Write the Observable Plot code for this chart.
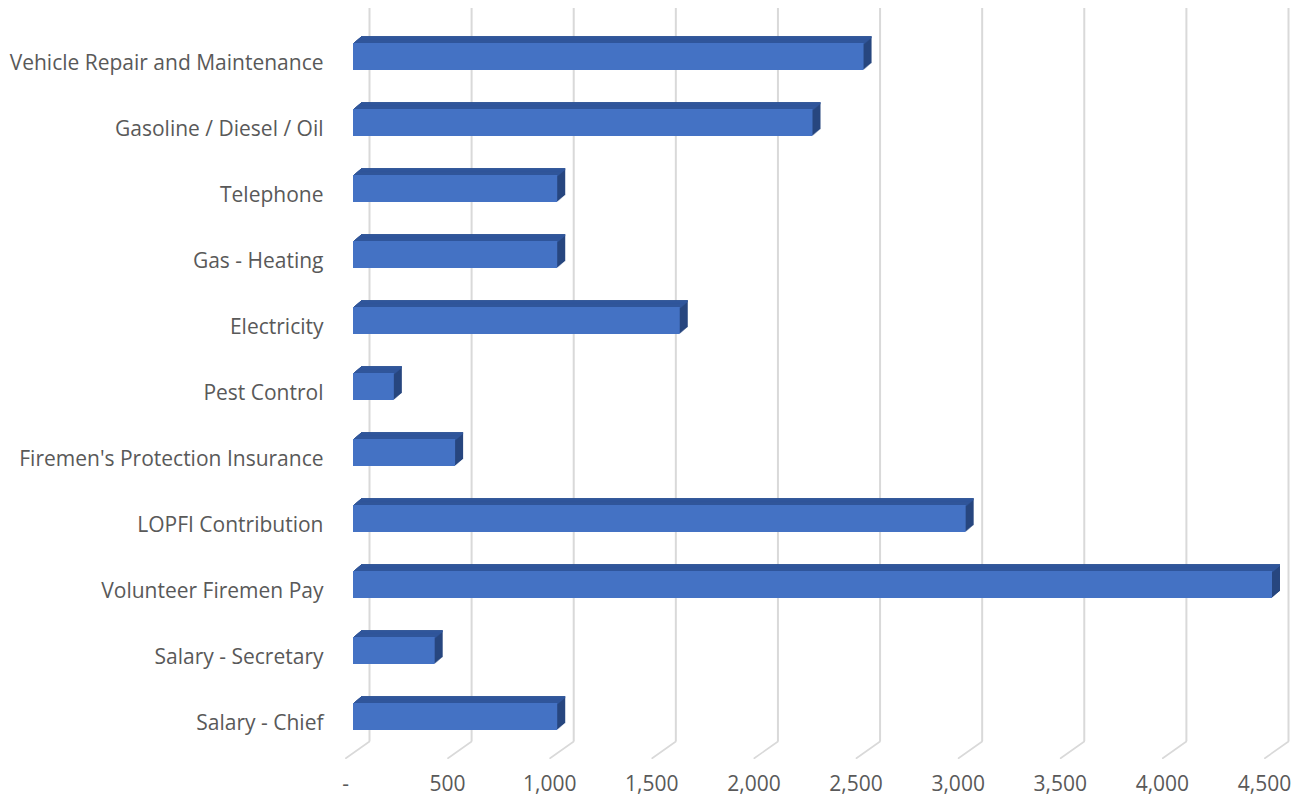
<!DOCTYPE html>
<html>
<head>
<meta charset="utf-8">
<script src="https://cdn.jsdelivr.net/npm/d3@7"></script>
<script src="https://cdn.jsdelivr.net/npm/@observablehq/plot@0.6"></script>
<style>
  html, body { margin: 0; padding: 0; background: #ffffff; }
  #chart svg { display: block; }
</style>
</head>
<body>
<div id="chart"></div>
<script>
const categories = [
  "Vehicle Repair and Maintenance",
  "Gasoline / Diesel / Oil",
  "Telephone",
  "Gas - Heating",
  "Electricity",
  "Pest Control",
  "Firemen's Protection Insurance",
  "LOPFI Contribution",
  "Volunteer Firemen Pay",
  "Salary - Secretary",
  "Salary - Chief"
];
const values = [2500, 2250, 1000, 1000, 1600, 200, 500, 3000, 4500, 400, 1000];
const xTicks = [0, 500, 1000, 1500, 2000, 2500, 3000, 3500, 4000, 4500];
const xTickLabels = ["-", "500", "1,000", "1,500", "2,000", "2,500", "3,000", "3,500", "4,000", "4,500"];

const data = categories.map((c, i) => ({category: c, value: values[i]}));
const ticks = xTicks.map((v, i) => ({value: v, label: xTickLabels[i]}));

const FONT = "'Open Sans', 'Noto Sans', sans-serif";
const TEXT = "#595959";
const GRID = "#d9d9d9";
const FRONT = "#4472c4";
const TOP = "#30569b";
const SIDE = "#27467f";
const DEPTH = 8;         // extrusion steps (px)
const SLOPE = 0.85;      // vertical rise per horizontal px of depth
const BACK = 16;         // back wall offset (px) of gridlines

const depthSide = d3.range(1, DEPTH + 1).map(k =>
  Plot.barX(data, {x1: 0, x2: "value", y: "category", fill: SIDE, dx: k, dy: -k * SLOPE})
);
const depthTop = d3.range(1, DEPTH + 1).map(k =>
  Plot.barX(data, {x1: 0, x2: "value", y: "category", fill: TOP, insetBottom: 25, dx: k, dy: -k * SLOPE})
);

const chart = Plot.plot({
  width: 1297,
  height: 801,
  marginLeft: 353,
  marginRight: 25,
  marginTop: 8,
  marginBottom: 60,
  style: {background: "#ffffff", fontFamily: FONT, color: TEXT},
  x: {domain: [0, 4500], range: [353, 1272], axis: null},
  y: {domain: categories, range: [21.3, 752.3], paddingInner: 0.594, paddingOuter: 0.297, axis: null},
  marks: [
    Plot.ruleX(ticks, {x: "value", dx: BACK, stroke: GRID, strokeWidth: 2}),
    Plot.vector(ticks, {
      x: "value", frameAnchor: "bottom", dx: BACK,
      length: 29, rotate: 234.7, anchor: "start",
      stroke: GRID, strokeWidth: 1.6,
      shape: {draw(context, l) { context.moveTo(0, 0); context.lineTo(0, -l); }}
    }),
    ...depthSide,
    ...depthTop,
    Plot.barX(data, {x1: 0, x2: "value", y: "category", fill: FRONT}),
    Plot.text(data, {
      y: "category", frameAnchor: "left", text: "category",
      textAnchor: "end", dx: -30, dy: 6, fontSize: 21, fill: TEXT
    }),
    Plot.text(ticks, {
      x: "value", frameAnchor: "bottom", text: "label",
      dx: -8, dy: 49, fontSize: 21, fill: TEXT
    })
  ]
});
document.getElementById("chart").appendChild(chart);
</script>
</body>
</html>
